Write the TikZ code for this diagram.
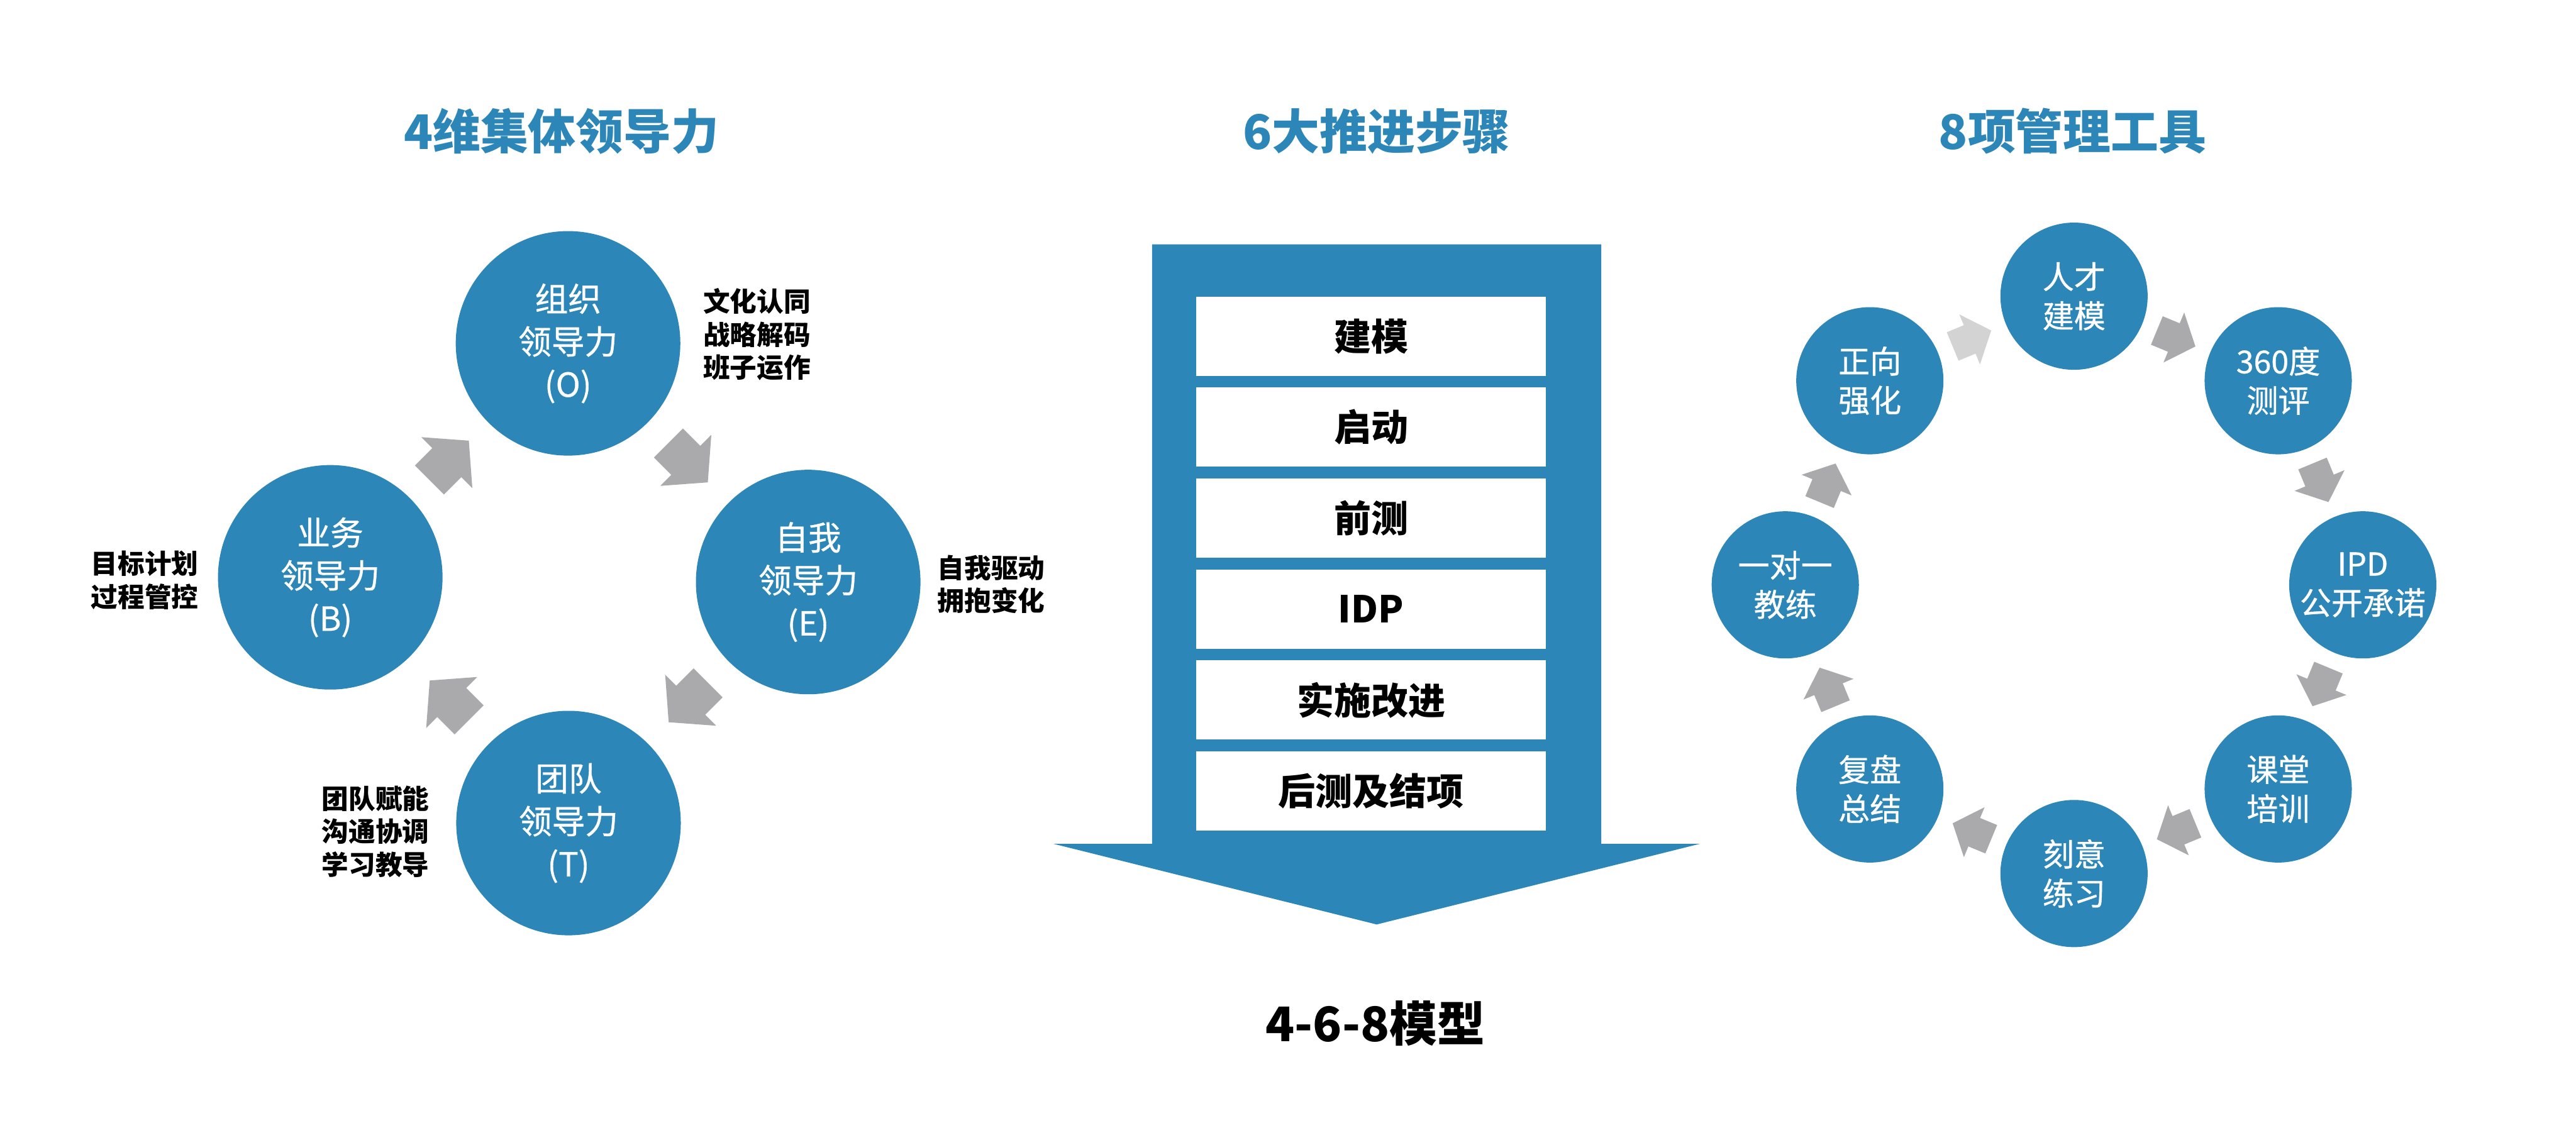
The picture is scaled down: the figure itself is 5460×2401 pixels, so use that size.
\documentclass[tikz,border=0pt]{standalone}
\usepackage{fontspec}
\setmainfont{Noto Sans CJK SC}
\newfontfamily\circlefont[FakeBold=0.7]{Noto Sans CJK SC}
\usepackage{tikz}
\usetikzlibrary{calc,positioning}
\definecolor{modelblue}{HTML}{2C86B7}
\definecolor{arrowgray}{HTML}{AAAAAD}
\definecolor{arrowlight}{HTML}{D3D3D3}

\tikzset{
  leadcircle/.style={circle,fill=modelblue,minimum size=476*0.005cm,inner sep=0pt,text=white,align=center,font=\circlefont\fontsize{10}{12.9}\selectfont},
  toolcircle/.style={circle,fill=modelblue,minimum size=312*0.005cm,inner sep=0pt,text=white,align=center,font=\circlefont\fontsize{9.5}{11.8}\selectfont},
  sidenote/.style={align=left,inner sep=0pt,font=\fontsize{8.1}{10}\selectfont\bfseries},
  stepbox/.style={fill=white,minimum width=742*0.005cm,minimum height=168*0.005cm,inner sep=0pt,font=\fontsize{11.2}{13}\selectfont\bfseries},
  heading/.style={text=modelblue,inner sep=0pt,font=\fontsize{14.4}{17}\selectfont\bfseries},
  pics/blockarrow/.style={code={\fill (-59,-43.5)--(-7,-43.5)--(-7,-76.5)--(59,0)--(-7,76.5)--(-7,43.5)--(-59,43.5)--cycle;}}
}

\begin{document}
\begin{tikzpicture}[x=0.005cm,y=0.005cm]
\useasboundingbox (0,0) rectangle (5460,2401);

\node[heading] (h4) at (1190,2123) {4维集体领导力};
\node[heading] (h6) at (2918,2123) {6大推进步骤};
\node[heading] (h8) at (4393,2123) {8项管理工具};

\node[leadcircle] (O) at (1204,1673) {组织\\领导力\\(O)};
\node[leadcircle] (E) at (1713,1167) {自我\\领导力\\(E)};
\node[leadcircle] (T) at (1205,656) {团队\\领导力\\(T)};
\node[leadcircle] (B) at (700,1177) {业务\\领导力\\(B)};

\node[sidenote,anchor=west] (Onote) at (1489,1692) {文化认同\\战略解码\\班子运作};
\node[sidenote,anchor=west] (Enote) at (1986,1162) {自我驱动\\拥抱变化};
\node[sidenote,anchor=east] (Bnote) at (422,1171) {目标计划\\过程管控};
\node[sidenote,anchor=east] (Tnote) at (911,638) {团队赋能\\沟通协调\\学习教导};

\pic[color=arrowgray,rotate=45] at ($(B)!0.5!(O)$) {blockarrow};
\pic[color=arrowgray,rotate=-45] at ($(O)!0.5!(E)$) {blockarrow};
\pic[color=arrowgray,rotate=-135] at ($(E)!0.5!(T)$) {blockarrow};
\pic[color=arrowgray,rotate=135] at ($(T)!0.5!(B)$) {blockarrow};

\fill[modelblue] (2442,1883) -- (3394,1883) -- (3394,612) -- (3603,612) -- (2918,441) -- (2233,612) -- (2442,612) -- cycle;
\node[stepbox] (s1) at (2906,1688) {建模};
\node[stepbox,below=0.11cm of s1] (s2) {启动};
\node[stepbox,below=0.11cm of s2] (s3) {前测};
\node[stepbox,below=0.11cm of s3] (s4) {IDP};
\node[stepbox,below=0.11cm of s4] (s5) {实施改进};
\node[stepbox,below=0.11cm of s5] (s6) {后测及结项};

\node[inner sep=0pt,font=\fontsize{14.4}{17}\selectfont\bfseries] (model) at (2915,231) {4-6-8模型};

\coordinate (ring) at (4396,1161);
\foreach \a/\name/\txt in {90/talent/{人才\\建模},45/assess/{360度\\测评},0/ipd/{IPD\\公开承诺},-45/class/{课堂\\培训},
  -90/practice/{刻意\\练习},-135/review/{复盘\\总结},180/coach/{一对一\\教练},135/reinforce/{正向\\强化}}
  \node[toolcircle] (\name) at ($(ring)+(\a:612)$) {\txt};

\foreach \p/\q/\r in {talent/assess/-22.5,assess/ipd/-67.5,ipd/class/-112.5,class/practice/-157.5,
  practice/review/157.5,review/coach/112.5,coach/reinforce/67.5}
  \pic[color=arrowgray,rotate=\r,scale=0.75] at ($(\p)!0.5!(\q)$) {blockarrow};
\pic[color=arrowlight,rotate=22.5,scale=0.75] at ($(reinforce)!0.5!(talent)$) {blockarrow};
\end{tikzpicture}
\end{document}
